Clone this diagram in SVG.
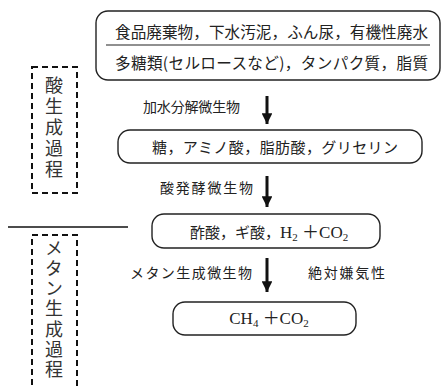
<svg xmlns="http://www.w3.org/2000/svg" width="443" height="387" viewBox="0 0 443 387">
<style>
.box{fill:none;stroke:#222;stroke-width:1.4}
.dash{fill:none;stroke:#111;stroke-width:2;stroke-dasharray:6 4}
.jp{font-family:"Noto Sans CJK JP","Noto Sans",sans-serif;fill:#222}
.lat{font-family:"Liberation Serif","Noto Sans CJK JP",serif;fill:#222}
.arrow{stroke:#111;stroke-width:3}
.vt{font-family:"Noto Sans CJK JP",sans-serif;fill:#333;writing-mode:vertical-rl;font-size:18px}
</style>
<defs>
<marker id="ah" viewBox="0 0 10 10" refX="10" refY="5" markerWidth="3.6" markerHeight="3.6" markerUnits="strokeWidth" orient="auto">
<path d="M0,0 L10,5 L0,10 z" fill="#111"/>
</marker>
</defs>
<rect width="443" height="387" fill="#fff"/>
<g id="phase-acid">
<rect class="dash" x="32" y="67" width="45" height="126"/>
<text class="vt" x="54" y="76" letter-spacing="3">酸生成過程</text>
</g>
<line x1="8" y1="227" x2="128" y2="227" stroke="#111" stroke-width="1.5"/>
<g id="phase-methane">
<rect class="dash" x="32" y="235" width="45" height="160"/>
<text class="vt" x="54" y="239" letter-spacing="2.2">メタン生成過程</text>
</g>
<g id="node-input">
<rect class="box" x="96" y="11" width="344" height="69" rx="12"/>
<line x1="106" y1="45" x2="430" y2="45" stroke="#222" stroke-width="1.2"/>
<text class="jp" x="115" y="38" font-size="15.6" textLength="313">食品廃棄物，下水汚泥，ふん尿，有機性廃水</text>
<text class="jp" x="115" y="69" font-size="15.6" textLength="313">多糖類(セルロースなど)，タンパク質，脂質</text>
</g>
<g id="node-sugars">
<rect class="box" x="118" y="130" width="304" height="33" rx="12"/>
<text class="jp" x="152" y="153" font-size="15" textLength="246">糖，アミノ酸，脂肪酸，グリセリン</text>
</g>
<g id="node-acids">
<rect class="box" x="152" y="214" width="228" height="34" rx="12"/>
<text class="jp" x="190" y="238" font-size="15">酢酸，ギ酸，<tspan class="lat" font-size="17">H<tspan font-size="11" dy="3">2</tspan><tspan dy="-3"> ＋CO</tspan><tspan font-size="11" dy="3">2</tspan></tspan></text>
</g>
<g id="node-methane">
<rect class="box" x="173" y="302" width="183" height="33" rx="12"/>
<text class="lat" x="269" y="324" font-size="17" text-anchor="middle">CH<tspan font-size="11" dy="3">4</tspan><tspan dy="-3"> ＋CO</tspan><tspan font-size="11" dy="3">2</tspan></text>
</g>
<g id="connectors">
<line class="arrow" x1="267" y1="96" x2="267" y2="124" marker-end="url(#ah)"/>
<line class="arrow" x1="267" y1="176" x2="267" y2="207" marker-end="url(#ah)"/>
<line class="arrow" x1="267" y1="258" x2="267" y2="292" marker-end="url(#ah)"/>
<text class="jp" x="143" y="112" font-size="14" textLength="97">加水分解微生物</text>
<text class="jp" x="160" y="193" font-size="14" textLength="93">酸発酵微生物</text>
<text class="jp" x="130" y="278" font-size="14" textLength="122">メタン生成微生物</text>
<text class="jp" x="308" y="278" font-size="14" textLength="77">絶対嫌気性</text>
</g>
</svg>
